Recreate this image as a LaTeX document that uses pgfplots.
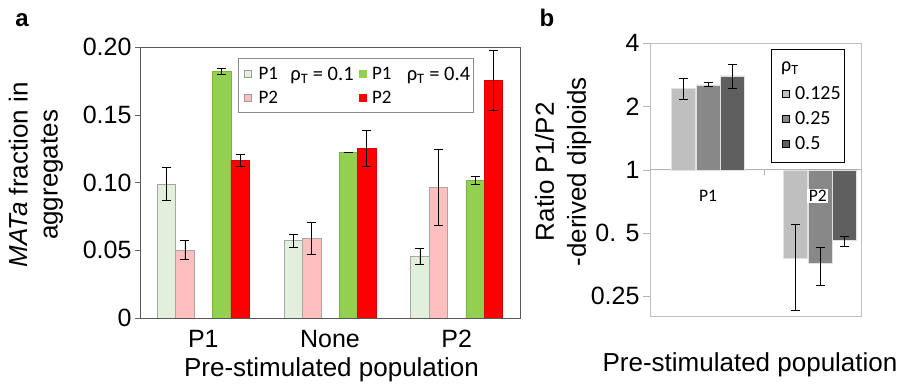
\documentclass[border=0pt]{standalone}
\usepackage{pgfplots}
\pgfplotsset{compat=1.18}
\usepackage{fontspec}
\setmainfont{Liberation Sans}
\newfontfamily\calfont{Carlito}
\newcommand{\lgA}{\calfont\fontsize{19}{22}\selectfont}
\newcommand{\lgB}{\calfont\fontsize{20}{23}\selectfont}
\definecolor{lgreen}{HTML}{E2EFDA}
\definecolor{lpink}{HTML}{FFBFBF}
\definecolor{mgreen}{HTML}{92D050}
\definecolor{mred}{HTML}{FF0000}
\definecolor{gA}{HTML}{BFBFBF}
\definecolor{gB}{HTML}{888888}
\definecolor{gC}{HTML}{5F5F5F}
\pgfplotsset{
  errstyle/.style={error bars/y dir=both, error bars/y explicit,
    error bars/error bar style={black, line width=0.7pt},
    error bars/error mark options={black, line width=0.7pt, mark size=4.5pt, rotate=90}},
  sqlegend/.style={legend image code/.code={\draw[##1] (0pt,-3.5pt) rectangle (7pt,3.5pt);}},
  sqlegendb/.style={legend image code/.code={\path (0pt,0pt); \draw[##1] (6pt,-3.5pt) rectangle (13pt,3.5pt);}},
}
\begin{document}
\begin{tikzpicture}
\path[use as bounding box] (0,0) rectangle (903pt,385pt);
\node[font=\bfseries\fontsize{24}{28}\selectfont] at (22pt,365pt) {a};
\node[font=\bfseries\fontsize{24}{28}\selectfont] at (547pt,367pt) {b};

% ---------------- panel a ----------------
\begin{axis}[
  at={(140pt,67pt)}, anchor=south west, scale only axis,
  width=380pt, height=271pt,
  xmin=-0.5, xmax=2.5, ymin=0, ymax=0.2,
  axis line style={black!65},
  xtick={0,1,2}, xticklabels={P1,None,P2},
  ytick={0,0.05,0.1,0.15,0.2}, yticklabels={0,0.05,0.10,0.15,0.20},
  ytick pos=left, tick align=outside, major tick length=5pt,
  x tick style={draw=none},
  y tick style={black!60},
  tick label style={font=\fontsize{25}{28}\selectfont},
  xticklabel style={yshift=-4pt},
  xlabel={Pre-stimulated population},
  ylabel={\textit{MATa} fraction in\\aggregates},
  label style={font=\fontsize{26}{30}\selectfont},
  ylabel style={align=center, at={(axis description cs:-0.274,0.528)}, anchor=center},
  xlabel style={at={(axis description cs:0.504,-0.192)}, anchor=center},
  sqlegend,
  legend columns=2,
  legend cell align=left,
  legend style={at={(0.258,0.959)}, anchor=north west, draw=black!45, fill=none,
    inner xsep=6pt, inner ysep=3pt, row sep=0pt,
    nodes={text height=16pt, text depth=4pt}},
]
\addplot[ybar, bar width=0.145, bar shift=0pt, fill=lgreen, draw=black!35, line width=0.6pt, forget plot, errstyle]
  coordinates {(-0.29,0.099) +- (0,0.012) (0.71,0.057) +- (0,0.005) (1.71,0.0455) +- (0,0.006)};
\addplot[ybar, bar width=0.145, bar shift=0pt, fill=lpink, draw=black!35, line width=0.6pt, forget plot, errstyle]
  coordinates {(-0.145,0.050) +- (0,0.007) (0.855,0.0588) +- (0,0.012) (1.855,0.0962) +- (0,0.028)};
\addplot[ybar, bar width=0.145, bar shift=0pt, fill=mgreen, draw=mgreen!85!black, line width=0.4pt, forget plot, errstyle]
  coordinates {(0.145,0.182) +- (0,0.0025) (1.145,0.1223) +- (0,0.0002) (2.145,0.1016) +- (0,0.003)};
\addplot[ybar, bar width=0.145, bar shift=0pt, fill=mred, draw=mred!85!black, line width=0.4pt, forget plot, errstyle]
  coordinates {(0.29,0.1166) +- (0,0.0045) (1.29,0.1252) +- (0,0.013) (2.29,0.1754) +- (0,0.022)};
\addlegendimage{fill=lgreen, draw=black!40}
\addlegendentry{\lgA\makebox[103pt][l]{\hspace*{5pt}P1}}
\addlegendimage{fill=mgreen, draw=mgreen}
\addlegendentry{\lgA\makebox[97pt][l]{\hspace*{4pt}P1}}
\addlegendimage{fill=lpink, draw=black!40}
\addlegendentry{\lgA\hspace*{5pt}P2}
\addlegendimage{fill=mred, draw=mred}
\addlegendentry{\lgA\hspace*{4pt}P2}
\node[font=\calfont\fontsize{20.5}{23}\selectfont] at (rel axis cs:0.479,0.896) {ρ\textsubscript{T} = 0.1};
\node[font=\calfont\fontsize{20.5}{23}\selectfont] at (rel axis cs:0.7855,0.896) {ρ\textsubscript{T} = 0.4};
\end{axis}

% ---------------- panel b ----------------
\begin{axis}[
  at={(650pt,68.3pt)}, anchor=south west, scale only axis,
  width=211pt, height=273.4pt,
  ymode=log, log basis y=2, ymin=0.2, ymax=4,
  xmin=-0.518, xmax=1.366,
  log origin y=0,
  axis line style={black!25},
  xtick=\empty,
  ytick={0.25,0.5,1,2,4}, yticklabels={0.25,0. 5,1,2,4},
  ytick pos=left, tick align=outside, major tick length=7pt,
  y tick style={black!30},
  tick label style={font=\fontsize{25}{28}\selectfont},
  xlabel={Pre-stimulated population},
  ylabel={Ratio P1/P2\\-derived diploids},
  label style={font=\fontsize{26}{32}\selectfont},
  ylabel style={align=center, at={(axis description cs:-0.412,0.53)}, anchor=center},
  xlabel style={at={(axis description cs:0.474,-0.177)}, anchor=center},
  sqlegendb,
  legend cell align=left,
  legend style={at={(0.572,0.978)}, anchor=north west, draw=black, fill=white,
    inner xsep=5pt, inner ysep=6.5pt, row sep=0pt,
    nodes={text height=16.8pt, text depth=4.2pt}},
]
\draw[black!30, line width=0.8pt] ({rel axis cs:0,0}|-{axis cs:0,1}) -- ({rel axis cs:1,0}|-{axis cs:0,1});
\draw[black!30, line width=0.8pt] (axis cs:0.5,1) -- ([yshift=-5pt]axis cs:0.5,1);
\addplot[ybar, bar width=0.214, bar shift=0pt, fill=gA, draw=black!12, line width=0.6pt, forget plot, errstyle]
  coordinates {(-0.22,2.43) += (0,0.30) -= (0,0.26) (0.78,0.379) += (0,0.174) -= (0,0.165)};
\addplot[ybar, bar width=0.214, bar shift=0pt, fill=gB, draw=black!12, line width=0.6pt, forget plot, errstyle]
  coordinates {(0,2.535) += (0,0.085) -= (0,0.035) (1.0,0.360) += (0,0.067) -= (0,0.078)};
\addplot[ybar, bar width=0.214, bar shift=0pt, fill=gC, draw=black!12, line width=0.6pt, forget plot, errstyle]
  coordinates {(0.22,2.80) += (0,0.38) -= (0,0.35) (1.22,0.463) += (0,0.022) -= (0,0.029)};
\addlegendimage{empty legend}
\addlegendentry{\lgB\hspace*{-10pt}\raisebox{3pt}{ρ\textsubscript{T}}}
\addlegendimage{fill=gA, draw=none}
\addlegendentry{\lgB\makebox[46pt][l]{\hspace*{4pt}0.125}}
\addlegendimage{fill=gB, draw=none}
\addlegendentry{\lgB\hspace*{4pt}0.25}
\addlegendimage{fill=gC, draw=none}
\addlegendentry{\lgB\hspace*{4pt}0.5}
\node[font=\calfont\fontsize{17.5}{20}\selectfont, anchor=center] at ([yshift=-26.5pt]axis cs:0,1) {P1};
\node[font=\calfont\fontsize{17.5}{20}\selectfont, anchor=center, fill=white, inner sep=1.5pt] at ([yshift=-26.5pt]axis cs:0.98,1) {P2};
\end{axis}
\end{tikzpicture}
\end{document}
